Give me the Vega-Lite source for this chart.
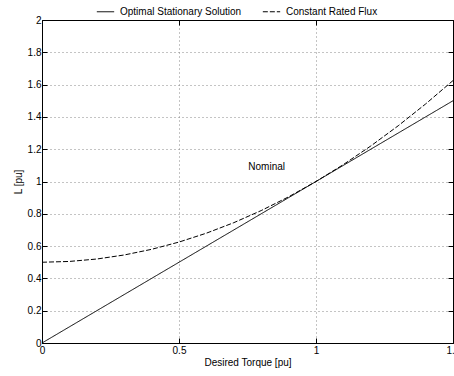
{
  "$schema": "https://vega.github.io/schema/vega-lite/v6.json",
  "width": 411,
  "height": 323,
  "autosize": {"type": "none"},
  "padding": {"left": 42, "top": 20, "right": 1, "bottom": 33},
  "background": "white",
  "config": {
    "font": "Liberation Sans",
    "view": {"stroke": "black", "strokeWidth": 1},
    "axis": {
      "labelFont": "Liberation Sans",
      "titleFont": "Liberation Sans",
      "labelFontSize": 10,
      "titleFontSize": 10,
      "titleFontWeight": "normal",
      "labelColor": "black",
      "titleColor": "black",
      "domainColor": "black",
      "tickColor": "black",
      "tickSize": -5,
      "tickWidth": 1,
      "labelPadding": 7,
      "gridColor": "#888888",
      "gridDash": [1, 3],
      "gridOpacity": 1,
      "gridWidth": 1
    }
  },
  "datasets": {
    "curves": [
      {"torque": 0, "L": 0, "series": "Optimal Stationary Solution"},
      {"torque": 1.5, "L": 1.5, "series": "Optimal Stationary Solution"},
      {"torque": 0, "L": 0.5, "series": "Constant Rated Flux"},
      {"torque": 0.1, "L": 0.505, "series": "Constant Rated Flux"},
      {"torque": 0.2, "L": 0.52, "series": "Constant Rated Flux"},
      {"torque": 0.3, "L": 0.545, "series": "Constant Rated Flux"},
      {"torque": 0.4, "L": 0.58, "series": "Constant Rated Flux"},
      {"torque": 0.5, "L": 0.625, "series": "Constant Rated Flux"},
      {"torque": 0.6, "L": 0.68, "series": "Constant Rated Flux"},
      {"torque": 0.7, "L": 0.745, "series": "Constant Rated Flux"},
      {"torque": 0.8, "L": 0.82, "series": "Constant Rated Flux"},
      {"torque": 0.9, "L": 0.905, "series": "Constant Rated Flux"},
      {"torque": 1.0, "L": 1.0, "series": "Constant Rated Flux"},
      {"torque": 1.1, "L": 1.105, "series": "Constant Rated Flux"},
      {"torque": 1.2, "L": 1.22, "series": "Constant Rated Flux"},
      {"torque": 1.3, "L": 1.345, "series": "Constant Rated Flux"},
      {"torque": 1.4, "L": 1.48, "series": "Constant Rated Flux"},
      {"torque": 1.5, "L": 1.625, "series": "Constant Rated Flux"}
    ],
    "labels": [
      {"torque": 0.82, "L": 1.09, "text": "Nominal"}
    ]
  },
  "resolve": {"axis": {"x": "independent", "y": "independent"}},
  "layer": [
    {
      "data": {"name": "curves"},
      "mark": {"type": "line", "color": "black", "strokeWidth": 1, "clip": true},
      "encoding": {
        "x": {
          "field": "torque", "type": "quantitative",
          "scale": {"domain": [0, 1.5], "nice": false, "zero": false},
          "axis": {"values": [0, 0.5, 1, 1.5], "format": "~g", "title": "Desired Torque  [pu]", "grid": true, "labelFlush": false, "labelOverlap": false, "titlePadding": 2}
        },
        "y": {
          "field": "L", "type": "quantitative",
          "scale": {"domain": [0, 2], "nice": false, "zero": false},
          "axis": {"values": [0, 0.2, 0.4, 0.6, 0.8, 1, 1.2, 1.4, 1.6, 1.8, 2], "format": "~g", "title": "L  [pu]", "grid": true, "labelFlush": false, "labelOverlap": false, "labelPadding": 6, "titlePadding": 4}
        },
        "strokeDash": {
          "field": "series", "type": "nominal",
          "scale": {"domain": ["Optimal Stationary Solution", "Constant Rated Flux"], "range": [[1, 0], [5, 2]]},
          "legend": {
            "title": null,
            "orient": "none",
            "direction": "horizontal",
            "legendX": 54,
            "legendY": -18,
            "symbolType": "stroke",
            "symbolStrokeColor": "black",
            "symbolStrokeWidth": 1,
            "symbolSize": 300,
            "labelFont": "Liberation Sans",
            "labelFontSize": 10,
            "labelColor": "black",
            "columnPadding": 18,
            "labelOffset": 5
          }
        },
        "detail": {"field": "series"}
      }
    },
    {
      "data": {"name": "labels"},
      "mark": {"type": "text", "font": "Liberation Sans", "fontSize": 10, "color": "black"},
      "encoding": {
        "x": {"field": "torque", "type": "quantitative", "axis": {"orient": "top", "values": [0, 0.5, 1, 1.5], "labels": false, "title": null, "grid": false}},
        "y": {"field": "L", "type": "quantitative", "axis": {"orient": "right", "values": [0, 0.2, 0.4, 0.6, 0.8, 1, 1.2, 1.4, 1.6, 1.8, 2], "labels": false, "title": null, "grid": false}},
        "text": {"field": "text"}
      }
    }
  ]
}
